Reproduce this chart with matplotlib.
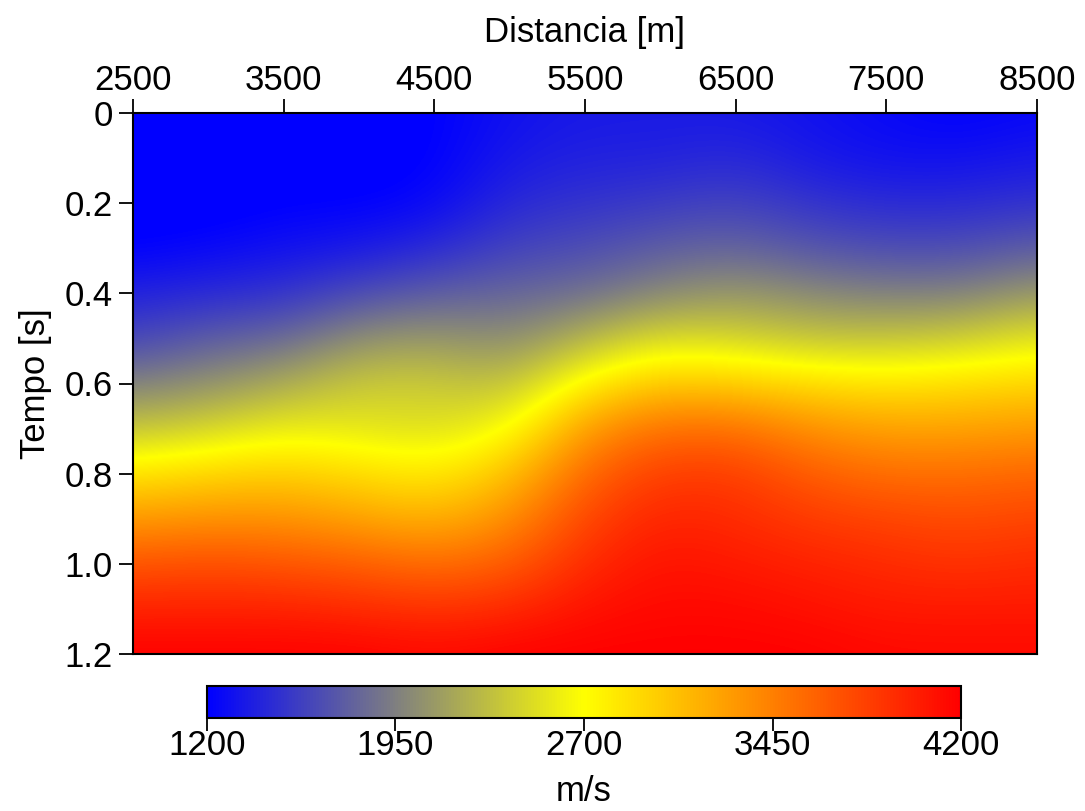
import numpy as np
import matplotlib
matplotlib.use("Agg")
import matplotlib.pyplot as plt
from matplotlib.colors import LinearSegmentedColormap

plt.rcParams['font.family'] = ['Liberation Sans', 'DejaVu Sans']

# grid nodes
distances = [2500, 3000, 3500, 4000, 4500, 5000, 5500, 6000, 6500, 7000, 7500, 8000, 8500]
times = [0.0, 0.1, 0.2, 0.3, 0.4, 0.5, 0.6, 0.7, 0.8, 0.9, 1.0, 1.1, 1.2]

# velocity (m/s) per distance column, values at each time
v_2500 = [1150, 1150, 1150, 1200, 1400, 1600, 1950, 2350, 2850, 3300, 3700, 4000, 4200]
v_3000 = [1150, 1150, 1150, 1250, 1450, 1750, 2050, 2450, 2950, 3350, 3750, 4000, 4200]
v_3500 = [1150, 1150, 1200, 1300, 1500, 1800, 2200, 2600, 3000, 3350, 3700, 4000, 4200]
v_4000 = [1150, 1150, 1200, 1350, 1650, 2050, 2400, 2550, 2900, 3250, 3650, 3950, 4200]
v_4500 = [1200, 1200, 1250, 1450, 1750, 2100, 2400, 2500, 2800, 3150, 3550, 3900, 4150]
v_5000 = [1300, 1350, 1450, 1600, 1800, 2000, 2300, 2650, 3050, 3350, 3650, 3950, 4200]
v_5500 = [1350, 1400, 1500, 1650, 1850, 2250, 2800, 3300, 3600, 3800, 3950, 4100, 4200]
v_6000 = [1350, 1400, 1550, 1750, 2000, 2500, 3050, 3550, 3850, 4000, 4100, 4150, 4200]
v_6500 = [1350, 1450, 1600, 1800, 2100, 2450, 3000, 3550, 3850, 3950, 4050, 4150, 4200]
v_7000 = [1300, 1350, 1500, 1700, 2000, 2350, 2900, 3350, 3650, 3850, 4000, 4100, 4200]
v_7500 = [1250, 1300, 1450, 1650, 1950, 2350, 2850, 3250, 3550, 3800, 3950, 4050, 4150]
v_8000 = [1200, 1300, 1450, 1650, 1950, 2400, 2900, 3250, 3550, 3750, 3900, 4050, 4150]
v_8500 = [1250, 1350, 1500, 1750, 2100, 2550, 2950, 3300, 3600, 3800, 3950, 4050, 4150]

x_ticks = [2500, 3500, 4500, 5500, 6500, 7500, 8500]
y_ticks = [0, 0.2, 0.4, 0.6, 0.8, 1.0, 1.2]
y_ticklabels = ['0', '0.2', '0.4', '0.6', '0.8', '1.0', '1.2']
cbar_ticks = [1200, 1950, 2700, 3450, 4200]
vmin, vmax = 1200, 4200

field = np.column_stack([v_2500, v_3000, v_3500, v_4000, v_4500, v_5000, v_5500,
                         v_6000, v_6500, v_7000, v_7500, v_8000, v_8500])

cmap = LinearSegmentedColormap.from_list(
    'bgyr', [(0.0, '#0000ff'), (0.25, '#808080'), (0.5, '#ffff00'), (1.0, '#ff0000')])

FS = 25

fig = plt.figure(figsize=(10.85, 8.11), dpi=100)
ax = fig.add_axes([133/1085, 1 - 654/811, (1037-133)/1085, (654-113)/811])

dx = distances[1] - distances[0]
dt = times[1] - times[0]
im = ax.imshow(field, cmap=cmap, vmin=vmin, vmax=vmax, aspect='auto',
               interpolation='bicubic', interpolation_stage='data', origin='upper',
               extent=[distances[0] - dx/2, distances[-1] + dx/2,
                       times[-1] + dt/2, times[0] - dt/2])
ax.set_xlim(distances[0], distances[-1])
ax.set_ylim(times[-1], times[0])

ax.xaxis.tick_top()
ax.xaxis.set_label_position('top')
ax.set_xticks(x_ticks)
ax.set_xticklabels([str(v) for v in x_ticks])
ax.set_yticks(y_ticks)
ax.set_yticklabels(y_ticklabels)
ax.tick_params(axis='x', direction='out', length=10, width=1.3, labelsize=FS, pad=1.5,
               colors='black')
ax.tick_params(axis='y', direction='out', length=10, width=1.3, labelsize=FS, pad=4.5,
               colors='black')
ax.set_xlabel('Distancia [m]', fontsize=FS, labelpad=16)
ax.set_ylabel('Tempo [s]', fontsize=FS, labelpad=9)
for s in ax.spines.values():
    s.set_linewidth(1.5)

cax = fig.add_axes([207/1085, 1 - 718/811, (961-207)/1085, 32/811])
cb = fig.colorbar(im, cax=cax, orientation='horizontal', ticks=cbar_ticks)
cb.ax.tick_params(direction='out', length=9, width=1.3, labelsize=FS, pad=-1)
cb.outline.set_linewidth(1.5)
cb.set_label('m/s', fontsize=FS, labelpad=9)

fig.savefig('out.png', dpi=100)
